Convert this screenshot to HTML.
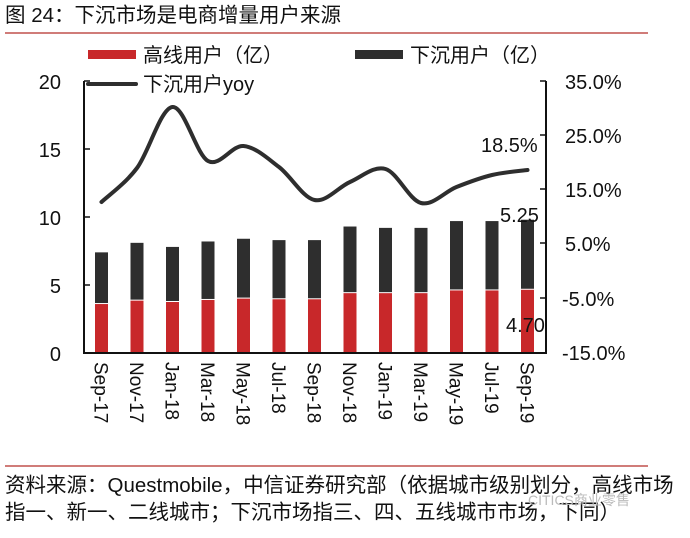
<!DOCTYPE html>
<html><head><meta charset="utf-8"><style>
body{margin:0;background:#fff;width:690px;height:533px;overflow:hidden}
svg text{font-family:"Liberation Sans","Noto Sans CJK SC",sans-serif;fill:#111}
</style></head><body>
<svg width="690" height="533" viewBox="0 0 690 533" xmlns="http://www.w3.org/2000/svg">
<text x="5" y="22" font-size="20.5">图 24：下沉市场是电商增量用户来源</text>
<line x1="5" y1="33" x2="648" y2="33" stroke="#c0504d" stroke-width="1.5"/>
<rect x="88" y="50" width="48" height="9" fill="#c8282a"/>
<text x="143" y="62" font-size="20">高线用户（亿）</text>
<rect x="355" y="50" width="48" height="9" fill="#2e2e2e"/>
<text x="410" y="62" font-size="20">下沉用户（亿）</text>
<line x1="88" y1="84" x2="136" y2="84" stroke="#2e2e2e" stroke-width="4" stroke-linecap="round"/>
<text x="143" y="91" font-size="20">下沉用户yoy</text>
<g id="bars"></g>
<line x1="84" y1="81" x2="84" y2="354" stroke="#111" stroke-width="2"/>
<line x1="84" y1="353" x2="547" y2="353" stroke="#111" stroke-width="2"/>
<line x1="546" y1="81" x2="546" y2="354" stroke="#111" stroke-width="2"/>
<g stroke="#111" stroke-width="1.5">
<line x1="84" y1="81" x2="90" y2="81"/><line x1="84" y1="149" x2="90" y2="149"/><line x1="84" y1="217" x2="90" y2="217"/><line x1="84" y1="285" x2="90" y2="285"/>
<line x1="540" y1="81" x2="546" y2="81"/><line x1="540" y1="135" x2="546" y2="135"/><line x1="540" y1="189" x2="546" y2="189"/><line x1="540" y1="243" x2="546" y2="243"/><line x1="540" y1="298" x2="546" y2="298"/>
</g>
<g font-size="20" text-anchor="end">
<text x="61" y="89">20</text><text x="61" y="157">15</text><text x="61" y="225">10</text><text x="61" y="293">5</text><text x="61" y="361">0</text>
</g>
<g font-size="20">
<text x="565" y="89">35.0%</text><text x="565" y="143">25.0%</text><text x="565" y="197">15.0%</text><text x="565" y="251">5.0%</text><text x="562" y="306">-5.0%</text><text x="562" y="360">-15.0%</text>
</g>
<path id="ln" fill="none" stroke="#2e2e2e" stroke-width="4" stroke-linecap="round"/>
<text x="481" y="152" font-size="20">18.5%</text>
<text x="500" y="222" font-size="20">5.25</text>
<text x="506" y="332" font-size="20">4.70</text>
<g id="xl" font-size="19"></g>
<line x1="5" y1="466" x2="648" y2="466" stroke="#c0504d" stroke-width="1.5"/>
<text x="5" y="492" font-size="20.5">资料来源：Questmobile，中信证券研究部（依据城市级别划分，高线市场</text>
<text x="5" y="519" font-size="20.5">指一、新一、二线城市；下沉市场指三、四、五线城市市场，下同）</text>
<text x="528" y="505" font-size="14" style="fill:#bbb">CITICS商业零售</text>
</svg>
<script>
var tot=[7.4,8.1,7.8,8.2,8.4,8.3,8.3,9.3,9.2,9.2,9.7,9.7,9.8];
var red=[3.6,3.85,3.75,3.9,4.0,3.95,3.95,4.4,4.4,4.4,4.6,4.6,4.65];
var lab=["Sep-17","Nov-17","Jan-18","Mar-18","May-18","Jul-18","Sep-18","Nov-18","Jan-19","Mar-19","May-19","Jul-19","Sep-19"];
var ly=[202,168,107,161,146,167,200,182,169,203,187,175,170];
var ns="http://www.w3.org/2000/svg",b=document.getElementById("bars"),xl=document.getElementById("xl");
var X=function(i){return 101.5+i*35.5};
function r(x,y,w,h,c){var e=document.createElementNS(ns,"rect");e.setAttribute("x",x);e.setAttribute("y",y);e.setAttribute("width",w);e.setAttribute("height",h);e.setAttribute("fill",c);b.appendChild(e);}
for(var i=0;i<13;i++){var x=X(i)-6.5;var yt=353-tot[i]*13.6,yr=353-red[i]*13.6;
r(x,yt,13,yr-yt-1,"#2e2e2e");r(x,yr,13,353-yr,"#c8282a");
var t=document.createElementNS(ns,"text");t.setAttribute("transform","translate("+(X(i)-7)+",362) rotate(90)");t.textContent=lab[i];xl.appendChild(t);}
var p=[];for(i=0;i<13;i++)p.push([X(i),ly[i]]);
var d="M"+p[0][0]+","+p[0][1];
for(i=0;i<12;i++){var p0=p[Math.max(i-1,0)],p1=p[i],p2=p[i+1],p3=p[Math.min(i+2,12)];
d+=" C"+(p1[0]+(p2[0]-p0[0])/6)+","+(p1[1]+(p2[1]-p0[1])/6)+" "+(p2[0]-(p3[0]-p1[0])/6)+","+(p2[1]-(p3[1]-p1[1])/6)+" "+p2[0]+","+p2[1];}
document.getElementById("ln").setAttribute("d",d);
</script>
</body></html>
